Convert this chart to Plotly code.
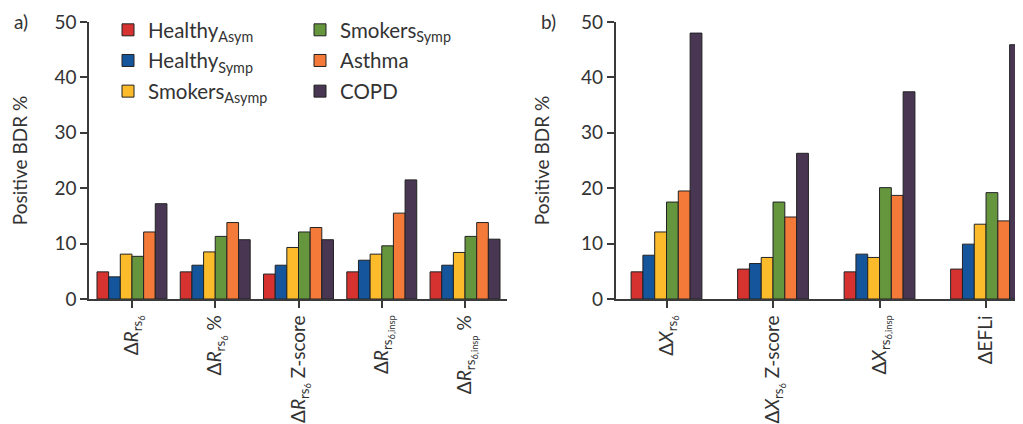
import plotly.graph_objects as go

# ---- data ----
groups = ["Healthy<sub>Asym</sub>", "Healthy<sub>Symp</sub>", "Smokers<sub>Asymp</sub>",
          "Smokers<sub>Symp</sub>", "Asthma", "COPD"]
colors = ["#d63330", "#14559c", "#fbbb2b", "#65953d", "#f47a3a", "#483652"]

cats_a = ["Δ<i>R</i><sub>rs<sub>6</sub></sub>",
          "Δ<i>R</i><sub>rs<sub>6</sub></sub> %",
          "Δ<i>R</i><sub>rs<sub>6</sub></sub> Z-score",
          "Δ<i>R</i><sub>rs<sub>6,insp</sub></sub>",
          "Δ<i>R</i><sub>rs<sub>6,insp</sub></sub> %"]
cats_b = ["Δ<i>X</i><sub>rs<sub>6</sub></sub>",
          "Δ<i>X</i><sub>rs<sub>6</sub></sub> Z-score",
          "Δ<i>X</i><sub>rs<sub>6,insp</sub></sub>",
          "ΔEFLi"]

healthy_asym_a = [4.9, 4.9, 4.5, 4.9, 4.9]
healthy_symp_a = [4.0, 6.1, 6.1, 7.0, 6.1]
smokers_asymp_a = [8.1, 8.5, 9.3, 8.1, 8.4]
smokers_symp_a = [7.7, 11.3, 12.1, 9.6, 11.3]
asthma_a = [12.1, 13.8, 12.9, 15.5, 13.8]
copd_a = [17.2, 10.7, 10.7, 21.5, 10.8]

healthy_asym_b = [4.9, 5.4, 4.9, 5.4]
healthy_symp_b = [7.9, 6.4, 8.1, 9.9]
smokers_asymp_b = [12.1, 7.5, 7.5, 13.5]
smokers_symp_b = [17.5, 17.5, 20.1, 19.2]
asthma_b = [19.5, 14.8, 18.7, 14.1]
copd_b = [48.0, 26.3, 37.4, 45.9]

vals_a = [healthy_asym_a, healthy_symp_a, smokers_asymp_a, smokers_symp_a, asthma_a, copd_a]
vals_b = [healthy_asym_b, healthy_symp_b, smokers_asymp_b, smokers_symp_b, asthma_b, copd_b]

FONT = "Lato"
FS = 19
XFS = 19
LFS = 20.5
wa = 0.14    # bar width (category units), panel a
wb = 0.1108  # bar width, panel b
W, H = 1015, 416

fig = go.Figure()
for i, name in enumerate(groups):
    leg = "legend" if i < 3 else "legend2"
    fig.add_trace(go.Bar(
        x=cats_a, y=vals_a[i], name=name, xaxis="x", yaxis="y",
        width=wa, offset=(i - 3) * wa, legendgroup=f"g{i}",
        marker=dict(color=colors[i], line=dict(color="#222222", width=1)),
        legend=leg, showlegend=True))
for i, name in enumerate(groups):
    fig.add_trace(go.Bar(
        x=cats_b, y=vals_b[i], name=name, xaxis="x2", yaxis="y2",
        width=wb, offset=(i - 3) * wb, legendgroup=f"g{i}",
        marker=dict(color=colors[i], line=dict(color="#222222", width=1)),
        showlegend=False))

axis_common = dict(showgrid=False, zeroline=False, showline=True, linecolor="#3a3a3a",
                   linewidth=1.5, ticks="outside", ticklen=7, tickwidth=1.5,
                   tickcolor="#3a3a3a", automargin=False)
xfont = dict(family=FONT, size=XFS, color="#333")
yfont = dict(family=FONT, size=FS, color="#333")
ydom = [125 / H, 402 / H]

fig.update_layout(
    width=W, height=H,
    margin=dict(l=0, r=0, t=0, b=0, autoexpand=False),
    paper_bgcolor="white", plot_bgcolor="white",
    barmode="overlay",
    font=dict(family=FONT, size=FS, color="#333"),
    xaxis=dict(domain=[81 / W, 499 / W], range=[-0.516, 4.504], anchor="y",
               type="category", tickangle=-90, tickfont=xfont, **axis_common),
    yaxis=dict(domain=ydom, range=[0, 50], anchor="x",
               tickvals=[0, 10, 20, 30, 40, 50], tickfont=yfont,
               title=dict(text="Positive BDR %", font=dict(family=FONT, size=FS), standoff=26),
               **axis_common),
    xaxis2=dict(domain=[607.7 / W, 1.0], range=[-0.477, 3.347], anchor="y2",
                type="category", tickangle=-90, tickfont=xfont, **axis_common),
    yaxis2=dict(domain=ydom, range=[0, 50], anchor="x2",
                tickvals=[0, 10, 20, 30, 40, 50], tickfont=yfont,
                title=dict(text="Positive BDR %", font=dict(family=FONT, size=FS), standoff=26),
                **axis_common),
    legend=dict(x=100 / W, y=1 - 2 / H, xanchor="left", yanchor="top",
                bgcolor="rgba(0,0,0,0)", font=dict(family=FONT, size=LFS),
                tracegroupgap=1),
    legend2=dict(x=292 / W, y=1 - 2 / H, xanchor="left", yanchor="top",
                 bgcolor="rgba(0,0,0,0)", font=dict(family=FONT, size=LFS),
                 tracegroupgap=1),
    annotations=[
        dict(text="a)", x=4 / W, y=1 - 14 / H, xref="paper", yref="paper",
             xanchor="left", yanchor="middle", showarrow=False,
             font=dict(family=FONT, size=FS, color="#333")),
        dict(text="b)", x=531 / W, y=1 - 14 / H, xref="paper", yref="paper",
             xanchor="left", yanchor="middle", showarrow=False,
             font=dict(family=FONT, size=FS, color="#333")),
    ],
)

fig.write_html("out.html")
